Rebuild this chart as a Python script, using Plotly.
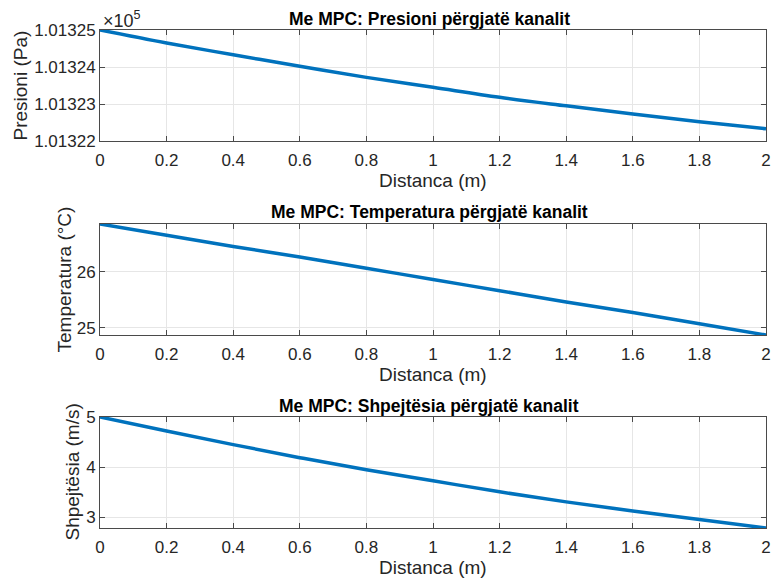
import plotly.graph_objects as go
from plotly.subplots import make_subplots

# ---------------- data ----------------
distance_m = [0.0, 0.2, 0.4, 0.6, 0.8, 1.0, 1.2, 1.4, 1.6, 1.8, 2.0]
pressure_pa = [101325.00, 101324.65, 101324.33, 101324.02, 101323.72, 101323.45,
               101323.18, 101322.95, 101322.73, 101322.52, 101322.33]
temperature_c = [26.85, 26.65, 26.45, 26.26, 26.06, 25.86, 25.66, 25.46, 25.27, 25.07, 24.87]
velocity_ms = [5.00, 4.72, 4.45, 4.19, 3.95, 3.73, 3.51, 3.31, 3.13, 2.96, 2.79]

x_ticks = [0, 0.2, 0.4, 0.6, 0.8, 1.0, 1.2, 1.4, 1.6, 1.8, 2.0]
x_tick_labels = ["0", "0.2", "0.4", "0.6", "0.8", "1", "1.2", "1.4", "1.6", "1.8", "2"]
pressure_ticks = [101322, 101323, 101324, 101325]
pressure_tick_labels = ["1.01322", "1.01323", "1.01324", "1.01325"]
pressure_range = [101322, 101325]
temperature_ticks = [25, 26]
temperature_tick_labels = ["25", "26"]
velocity_ticks = [3, 4, 5]
velocity_tick_labels = ["3", "4", "5"]

panel_titles = ["Me MPC: Presioni përgjatë kanalit",
                "Me MPC: Temperatura përgjatë kanalit",
                "Me MPC: Shpejtësia përgjatë kanalit"]
y_labels = ["Presioni (Pa)", "Temperatura (°C)", "Shpejtësia (m/s)"]
x_label = "Distanca (m)"
exponent_label = "×10<sup>5</sup>"

# ---------------- layout geometry (pixels) ----------------
W, H = 772, 578
FONT = "Liberation Sans, Arial, Helvetica, sans-serif"
LINE_COLOR = "#0072BD"
AX_COLOR = "#4a4a4a"
TXT_COLOR = "#262626"
GRID_COLOR = "#e6e6e6"

x_left, x_right = 100, 766
panels_px = [(30, 141), (224, 335), (417, 528)]  # (top, bottom)
ylab_x = [20, 64, 72]
title_y = [19, 212, 406]


def px_x(v):
    return v / W


def px_y(v):
    return 1 - v / H


fig = make_subplots(rows=3, cols=1)

series = [pressure_pa, temperature_c, velocity_ms]
for i, ys in enumerate(series):
    fig.add_trace(go.Scatter(x=distance_m, y=ys, mode="lines", line_shape="spline",
                             line=dict(color=LINE_COLOR, width=3.5), showlegend=False),
                  row=i + 1, col=1)

y_specs = [
    (pressure_ticks, pressure_tick_labels, pressure_range),
    (temperature_ticks, temperature_tick_labels, [min(temperature_c), max(temperature_c)]),
    (velocity_ticks, velocity_tick_labels, [min(velocity_ms), max(velocity_ms)]),
]

axis_common = dict(showline=True, linecolor=AX_COLOR, linewidth=1, mirror="ticks",
                   ticks="inside", ticklen=5, tickcolor=AX_COLOR, tickwidth=1,
                   showgrid=True, gridcolor=GRID_COLOR, gridwidth=1, zeroline=False,
                   automargin=False, tickfont=dict(family=FONT, size=17, color=TXT_COLOR))

for i, (top, bot) in enumerate(panels_px):
    n = "" if i == 0 else str(i + 1)
    fig.layout["xaxis" + n].update(domain=[px_x(x_left), px_x(x_right)], range=[0, 2],
                                   tickvals=x_ticks, ticktext=x_tick_labels,
                                   ticklabelstandoff=4, **axis_common)
    tv, tt, rg = y_specs[i]
    fig.layout["yaxis" + n].update(domain=[px_y(bot), px_y(top)], range=rg,
                                   tickvals=tv, ticktext=tt, **axis_common)

annotations = []
for i, (top, bot) in enumerate(panels_px):
    annotations.append(dict(text="<b>" + panel_titles[i] + "</b>", xref="paper", yref="paper",
                            x=px_x((x_left + x_right) / 2 - 4), y=px_y(title_y[i]),
                            xanchor="center", yanchor="middle", showarrow=False,
                            font=dict(family=FONT, size=17.5, color="#000000")))
    annotations.append(dict(text=x_label, xref="paper", yref="paper",
                            x=px_x((x_left + x_right) / 2), y=px_y(bot + 39),
                            xanchor="center", yanchor="middle", showarrow=False,
                            font=dict(family=FONT, size=19, color=TXT_COLOR)))
    annotations.append(dict(text=y_labels[i], xref="paper", yref="paper",
                            x=px_x(ylab_x[i]), y=px_y((top + bot) / 2), textangle=-90,
                            xanchor="center", yanchor="middle", showarrow=False,
                            font=dict(family=FONT, size=19, color=TXT_COLOR)))

annotations.append(dict(text=exponent_label, xref="paper", yref="paper",
                        x=px_x(x_left + 1), y=px_y(20), xanchor="left", yanchor="middle",
                        showarrow=False, font=dict(family=FONT, size=18, color=TXT_COLOR)))

fig.update_layout(width=W, height=H, margin=dict(l=0, r=0, t=0, b=0),
                  paper_bgcolor="white", plot_bgcolor="white",
                  annotations=annotations, font=dict(family=FONT, color=TXT_COLOR))

fig.write_html("out.html")
